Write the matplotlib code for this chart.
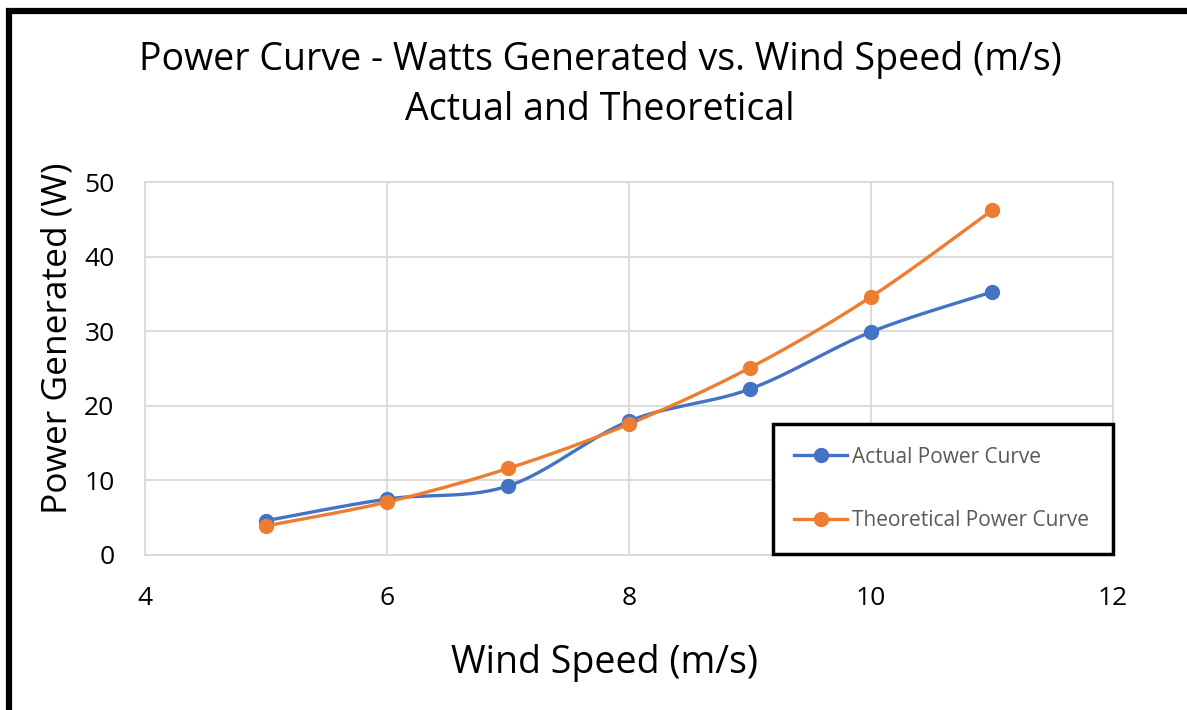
import numpy as np
import matplotlib
matplotlib.use("Agg")
import matplotlib.pyplot as plt
from matplotlib.patches import Rectangle
from matplotlib.lines import Line2D

wind_speed = [5, 6, 7, 8, 9, 10, 11]
actual_power = [4.6, 7.5, 9.25, 17.95, 22.25, 29.9, 35.25]
theoretical_power = [3.9, 7.1, 11.6, 17.55, 25.1, 34.6, 46.2]
series_names = ["Actual Power Curve", "Theoretical Power Curve"]
x_ticks = [4, 6, 8, 10, 12]
y_ticks = [0, 10, 20, 30, 40, 50]

plt.rcParams['font.family'] = ['Open Sans', 'DejaVu Sans']

def smooth(xs, ys, n=40):
    xs = np.asarray(xs, float); ys = np.asarray(ys, float)
    P = np.column_stack([xs, ys])
    Pext = np.vstack([P[0], P, P[-1]])
    out = []
    for i in range(len(P) - 1):
        p0, p1, p2, p3 = Pext[i], Pext[i + 1], Pext[i + 2], Pext[i + 3]
        c1 = p1 + (p2 - p0) / 6.0
        c2 = p2 - (p3 - p1) / 6.0
        t = np.linspace(0, 1, n)[:, None]
        seg = ((1 - t) ** 3) * p1 + 3 * ((1 - t) ** 2) * t * c1 + 3 * (1 - t) * t ** 2 * c2 + t ** 3 * p2
        out.append(seg if i == 0 else seg[1:])
    s = np.vstack(out)
    return s[:, 0], s[:, 1]

W, H = 1187, 710
fig = plt.figure(figsize=(W / 100, H / 100), dpi=100)

# outer black border (cropped on right/bottom)
fig.patches.append(Rectangle((9.5 / W, -0.1), 1.2, 1 - 11 / H + 0.1, transform=fig.transFigure,
                             fill=False, edgecolor='black', linewidth=4.5, zorder=0))

ax = fig.add_axes([145 / W, 1 - 555 / H, (1113 - 145) / W, (555 - 182) / H])
colors = ['#4472C4', '#ED7D31']
for ys, c in zip([actual_power, theoretical_power], colors):
    sx, sy = smooth(wind_speed, ys)
    ax.plot(sx, sy, color=c, linewidth=2.4, solid_capstyle='round', zorder=3)
    ax.plot(wind_speed, ys, linestyle='none', marker='o', markersize=10, color=c, zorder=4)

ax.set_xlim(4, 12)
ax.set_ylim(0, 50)
ax.set_xticks(x_ticks)
ax.set_yticks(y_ticks)
ax.grid(True, color='#d9d9d9', linewidth=1.3)
ax.set_axisbelow(True)
for s in ax.spines.values():
    s.set_color('#d9d9d9')
    s.set_linewidth(1.3)
ax.tick_params(length=0, labelsize=19, colors='black')
ax.tick_params(axis='x', pad=22)
ax.tick_params(axis='y', pad=22)

fig.text(600 / W, 1 - 60 / H, "Power Curve - Watts Generated vs. Wind Speed (m/s)", ha='center', va='center', fontsize=27)
fig.text(600 / W, 1 - 110 / H, "Actual and Theoretical", ha='center', va='center', fontsize=27)
fig.text(605 / W, 1 - 663 / H, "Wind Speed (m/s)", ha='center', va='center', fontsize=27)
fig.text(58 / W, 1 - 338 / H, "Power Generated (W)", ha='center', va='center', fontsize=25.5, rotation=90)

# legend box
fig.patches.append(Rectangle((773 / W, 1 - 554 / H), (1113 - 773) / W, (554 - 424) / H, transform=fig.transFigure,
                             fill=True, facecolor='white', edgecolor='black', linewidth=2.5, zorder=5))
handles = [Line2D([0], [0], color=c, linewidth=2.4, marker='o', markersize=10) for c in colors]
leg = fig.legend(handles, series_names, loc='center left', bbox_to_anchor=(794 / W, 1 - 489 / H),
                 frameon=False, fontsize=15, labelcolor='#595959', handlelength=2.55,
                 labelspacing=2.05, handletextpad=0.25, borderaxespad=0, borderpad=0)
leg.set_zorder(6)

fig.savefig("out.png", dpi=100)
